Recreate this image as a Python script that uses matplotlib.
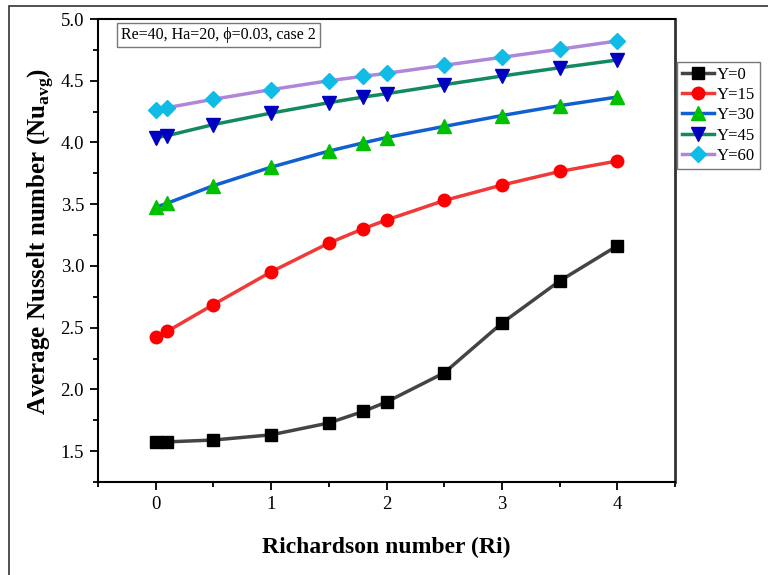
import numpy as np
import matplotlib.pyplot as plt
from matplotlib.patches import Rectangle
from matplotlib.ticker import MultipleLocator

plt.rcParams['font.family'] = ['Liberation Serif', 'DejaVu Serif']
plt.rcParams['mathtext.fontset'] = 'custom'
plt.rcParams['mathtext.rm'] = 'Liberation Serif'
plt.rcParams['mathtext.bf'] = 'Liberation Serif:bold'

ri = [0, 0.1, 0.5, 1, 1.5, 1.8, 2, 2.5, 3, 3.5, 4]

nu_y0 = [1.573, 1.575, 1.59, 1.632, 1.728, 1.822, 1.898, 2.134, 2.537, 2.878, 3.163]
nu_y15 = [2.425, 2.47, 2.687, 2.952, 3.185, 3.302, 3.372, 3.53, 3.655, 3.765, 3.85]
nu_y30 = [3.475, 3.508, 3.65, 3.8, 3.93, 3.997, 4.04, 4.13, 4.218, 4.298, 4.368]
nu_y45 = [4.04, 4.055, 4.145, 4.238, 4.322, 4.368, 4.395, 4.468, 4.538, 4.605, 4.668]
nu_y60 = [4.262, 4.282, 4.35, 4.428, 4.5, 4.536, 4.56, 4.625, 4.69, 4.755, 4.822]

labels = ["Y=0", "Y=15", "Y=30", "Y=45", "Y=60"]

fig = plt.figure(figsize=(7.68, 5.75), dpi=100)
ax = fig.add_axes([98 / 768, 1 - 482 / 575, 577 / 768, 463 / 575])

styles = [
    dict(color="#444444", marker="s", mfc="black", mec="black", ms=8),
    dict(color="#f03a3a", marker="o", mfc="#ff0000", mec="#ff0000", ms=9),
    dict(color="#1060d0", marker="^", mfc="#00c000", mec="#00c000", ms=10),
    dict(color="#138a5e", marker="v", mfc="#0000c0", mec="#0000c0", ms=10),
    dict(color="#b086d8", marker="D", mfc="#10bce6", mec="#10bce6", ms=8),
]

for data, label, st in zip(
    [nu_y0, nu_y15, nu_y30, nu_y45, nu_y60],
    labels,
    styles
):
    ax.plot(ri, data, lw=2.5, label=label, **st)

ax.set_xlim(-0.5, 4.5)
ax.set_ylim(1.25, 5.0)
ax.xaxis.set_major_locator(MultipleLocator(1))
ax.xaxis.set_minor_locator(MultipleLocator(0.5))
ax.yaxis.set_major_locator(MultipleLocator(0.5))
ax.yaxis.set_minor_locator(MultipleLocator(0.25))
ax.yaxis.set_major_formatter(plt.FormatStrFormatter("%.1f"))
ax.tick_params(which="major", direction="out", length=6, width=1.3,
               labelsize=13.5, pad=4)
ax.tick_params(which="minor", direction="out", length=3.5, width=1.3)

for side in ["left", "bottom", "top"]:
    ax.spines[side].set_linewidth(1.5)
ax.spines["right"].set_linewidth(2)
ax.spines["right"].set_color("#333333")

ax.set_xlabel("Richardson number (Ri)", fontsize=17, fontweight="bold",
              labelpad=17)
ax.set_ylabel(r"Average Nusselt number (Nu$_{\mathbf{avg}}$)", fontsize=18,
              fontweight="bold", labelpad=3)
ax.yaxis.label.set_y(0.52)

ax.text(0.04, 0.983, "Re=40, Ha=20, ϕ=0.03, case 2", transform=ax.transAxes,
        fontsize=11.5, va="top", ha="left",
        bbox=dict(boxstyle="square,pad=0.25", fc="white", ec="#777777", lw=1))

fig.legend(loc="upper left", bbox_to_anchor=(677 / 768, 1 - 62 / 575),
           borderaxespad=0, fontsize=12, frameon=True, fancybox=False,
           edgecolor="#777777", framealpha=1, handlelength=1.9,
           labelspacing=0.25, borderpad=0.3, handletextpad=0.2)

fig.patches.append(Rectangle((9 / 768, -0.1), 2, 1.1 - 6 / 575,
                             transform=fig.transFigure, fill=False,
                             lw=1.2, ec="#333333"))

fig.savefig("out.png", dpi=100)
